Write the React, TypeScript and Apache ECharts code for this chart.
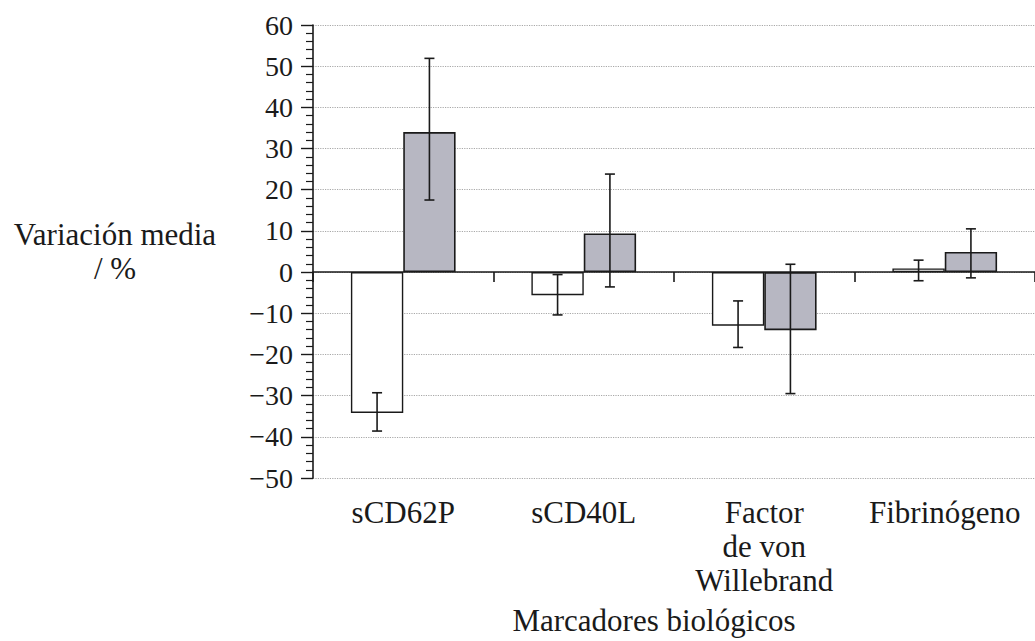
import React, { useEffect, useRef } from "react";
import * as echarts from "echarts";

const categories = ["sCD62P", "sCD40L", "Factor\nde von\nWillebrand", "Fibrinógeno"];
const whiteValues = [-34.2, -5.6, -13.0, 0.9];
const whiteLow = [-38.6, -10.4, -18.3, -2.1];
const whiteHigh = [-29.3, -0.6, -7.0, 2.9];
const greyValues = [34.0, 9.4, -14.1, 4.9];
const greyLow = [17.5, -3.6, -29.5, -1.4];
const greyHigh = [51.9, 23.8, 1.9, 10.5];
const yMin = -50;
const yMax = 60;
const yInterval = 10;
const yAxisTitle = "Variación media\n/ %";
const xAxisTitle = "Marcadores biológicos";

const FONT = "Liberation Serif";
const INK = "#1a1a1a";

function errorSeries(low: number[], high: number[], offsetFrac: number) {
  return {
    type: "custom",
    xAxisIndex: 0,
    yAxisIndex: 0,
    z: 5,
    data: low.map((l, i) => [i, l, high[i]]),
    renderItem: (params: any, api: any) => {
      const idx = api.value(0);
      const lo = api.value(1);
      const hi = api.value(2);
      const pLo = api.coord([idx, lo]);
      const pHi = api.coord([idx, hi]);
      const band = api.size([1, 0])[0];
      const cx = pLo[0] + offsetFrac * band;
      const cap = 5;
      const style = { stroke: INK, lineWidth: 1.6 };
      return {
        type: "group",
        children: [
          { type: "line", shape: { x1: cx, y1: pHi[1], x2: cx, y2: pLo[1] }, style },
          { type: "line", shape: { x1: cx - cap, y1: pHi[1], x2: cx + cap, y2: pHi[1] }, style },
          { type: "line", shape: { x1: cx - cap, y1: pLo[1], x2: cx + cap, y2: pLo[1] }, style },
        ],
      };
    },
  };
}

export default function App() {
  const ref = useRef<HTMLDivElement>(null);
  useEffect(() => {
    if (!ref.current) return;
    const chart = echarts.init(ref.current, null, { renderer: "svg" });
    chart.setOption({
      animation: false,
      backgroundColor: "#ffffff",
      grid: { left: 313, top: 25, width: 732, height: 453, containLabel: false },
      xAxis: [
        {
          type: "category",
          data: categories,
          position: "bottom",
          axisLine: { show: false, onZero: false },
          axisTick: { show: false },
          axisLabel: {
            show: true,
            margin: 17,
            fontFamily: FONT,
            fontSize: 31,
            lineHeight: 34,
            color: INK,
            interval: 0,
            align: "center",
          },
          splitLine: { show: false },
        },
        {
          type: "category",
          data: categories,
          position: "bottom",
          axisLine: { show: true, onZero: true, lineStyle: { color: INK, width: 1.6 } },
          axisTick: { show: true, length: 10, inside: false, lineStyle: { color: INK, width: 1.6 } },
          axisLabel: { show: false },
          splitLine: { show: false },
        },
      ],
      yAxis: {
        type: "value",
        min: yMin,
        max: yMax,
        interval: yInterval,
        axisLine: { show: true, onZero: false, lineStyle: { color: INK, width: 1.6 } },
        axisTick: { show: true, length: 12, lineStyle: { color: INK, width: 1.4 } },
        minorTick: { show: true, splitNumber: 5, length: 7, lineStyle: { color: INK, width: 1.2 } },
        axisLabel: {
          margin: 20,
          fontFamily: FONT,
          fontSize: 28,
          color: INK,
          formatter: (v: number) => String(v).replace("-", "\u2212"),
        },
        splitLine: { show: true, lineStyle: { color: "#a8a8a8", type: "dotted", width: 1.2 } },
      },
      series: [
        {
          type: "bar",
          name: "blanco",
          xAxisIndex: 0,
          data: whiteValues,
          barWidth: "29%",
          barGap: "0%",
          itemStyle: { color: "#ffffff", borderColor: INK, borderWidth: 1.4 },
          z: 3,
        },
        {
          type: "bar",
          name: "gris",
          xAxisIndex: 0,
          data: greyValues,
          barWidth: "29%",
          barGap: "0%",
          itemStyle: { color: "#b7b7c2", borderColor: INK, borderWidth: 1.6 },
          z: 3,
        },
        errorSeries(whiteLow, whiteHigh, -0.145),
        errorSeries(greyLow, greyHigh, 0.145),
      ],
      graphic: [
        {
          type: "text",
          x: 115,
          y: 217,
          style: {
            text: yAxisTitle,
            fill: INK,
            fontFamily: FONT,
            fontSize: 31,
            align: "center",
            verticalAlign: "top",
            lineHeight: 34,
          },
        },
        {
          type: "text",
          x: 654,
          y: 605,
          style: {
            text: xAxisTitle,
            fill: INK,
            fontFamily: FONT,
            fontSize: 31,
            align: "center",
            verticalAlign: "top",
          },
        },
      ],
    });
    return () => chart.dispose();
  }, []);
  return (
    <div
      ref={ref}
      style={{ position: "fixed", left: 0, top: 0, width: 1035, height: 641, background: "#fff" }}
    />
  );
}
